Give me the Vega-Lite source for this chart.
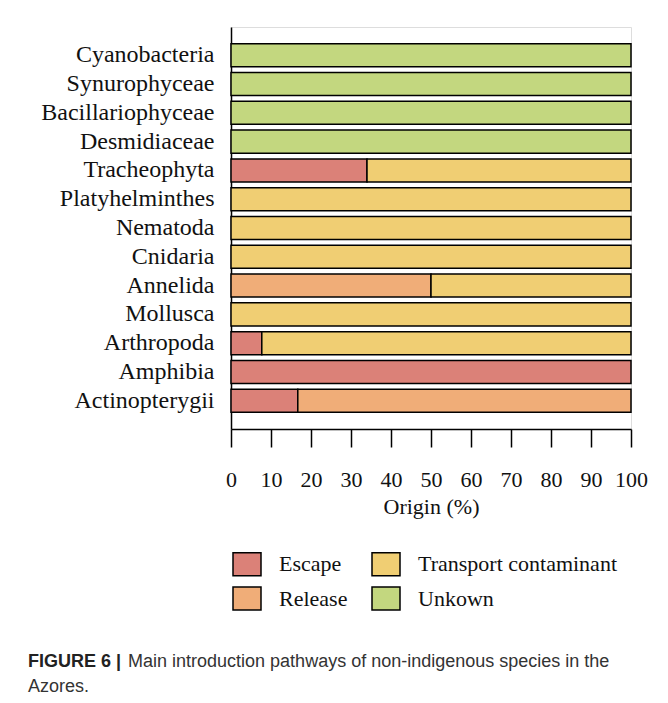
{
  "$schema": "https://vega.github.io/schema/vega-lite/v6.json",
  "autosize": {"type": "none"},
  "width": 400,
  "height": 402,
  "padding": {"left": 231, "top": 27, "right": 37, "bottom": 274},
  "background": "white",
  "title": {
    "text": "FIGURE 6 |",
    "subtitle": ["\u200b\u00a0\u00a0\u00a0\u00a0\u00a0\u00a0\u00a0\u00a0\u00a0\u00a0\u00a0\u00a0\u00a0\u00a0\u00a0\u00a0\u00a0\u00a0\u00a0\u00a0Main introduction pathways of non-indigenous species in the", "Azores."],
    "orient": "bottom",
    "anchor": "start",
    "frame": "group",
    "dx": -203,
    "offset": 40,
    "font": "Liberation Sans",
    "fontSize": 18,
    "fontWeight": "bold",
    "color": "#222222",
    "subtitleFont": "Liberation Sans",
    "subtitleFontSize": 18,
    "subtitleColor": "#333333",
    "subtitlePadding": -18,
    "subtitleLineHeight": 25
  },
  "data": {
    "values": [
      {"taxon": "Cyanobacteria", "pathway": "Unkown", "percent": 100},
      {"taxon": "Synurophyceae", "pathway": "Unkown", "percent": 100},
      {"taxon": "Bacillariophyceae", "pathway": "Unkown", "percent": 100},
      {"taxon": "Desmidiaceae", "pathway": "Unkown", "percent": 100},
      {"taxon": "Tracheophyta", "pathway": "Escape", "percent": 34},
      {"taxon": "Tracheophyta", "pathway": "Transport contaminant", "percent": 66},
      {"taxon": "Platyhelminthes", "pathway": "Transport contaminant", "percent": 100},
      {"taxon": "Nematoda", "pathway": "Transport contaminant", "percent": 100},
      {"taxon": "Cnidaria", "pathway": "Transport contaminant", "percent": 100},
      {"taxon": "Annelida", "pathway": "Release", "percent": 50},
      {"taxon": "Annelida", "pathway": "Transport contaminant", "percent": 50},
      {"taxon": "Mollusca", "pathway": "Transport contaminant", "percent": 100},
      {"taxon": "Arthropoda", "pathway": "Escape", "percent": 7.7},
      {"taxon": "Arthropoda", "pathway": "Transport contaminant", "percent": 92.3},
      {"taxon": "Amphibia", "pathway": "Escape", "percent": 100},
      {"taxon": "Actinopterygii", "pathway": "Escape", "percent": 16.7},
      {"taxon": "Actinopterygii", "pathway": "Release", "percent": 83.3}
    ]
  },
  "mark": {"type": "bar", "stroke": "#000000", "strokeWidth": 1.5, "opacity": 1},
  "encoding": {
    "y": {
      "field": "taxon",
      "type": "nominal",
      "sort": ["Cyanobacteria", "Synurophyceae", "Bacillariophyceae", "Desmidiaceae", "Tracheophyta", "Platyhelminthes", "Nematoda", "Cnidaria", "Annelida", "Mollusca", "Arthropoda", "Amphibia", "Actinopterygii"],
      "scale": {"paddingInner": 0.2, "paddingOuter": 0.58},
      "axis": {
        "title": null,
        "ticks": false,
        "domainColor": "#000000",
        "domainWidth": 1.5,
        "labelFont": "Liberation Serif",
        "labelFontSize": 24,
        "labelColor": "#111111",
        "labelPadding": 17,
        "labelLimit": 300
      }
    },
    "x": {
      "field": "percent",
      "type": "quantitative",
      "stack": "zero",
      "scale": {"domain": [0, 100], "nice": false},
      "axis": {
        "title": "Origin (%)",
        "values": [0, 10, 20, 30, 40, 50, 60, 70, 80, 90, 100],
        "grid": false,
        "domainColor": "#000000",
        "domainWidth": 1.5,
        "tickColor": "#000000",
        "tickWidth": 1.5,
        "tickSize": 18,
        "labelFont": "Liberation Serif",
        "labelFontSize": 22,
        "labelColor": "#111111",
        "labelPadding": 22,
        "labelFlush": false,
        "titleFont": "Liberation Serif",
        "titleFontSize": 22,
        "titleFontWeight": "normal",
        "titleColor": "#111111",
        "titlePadding": 6
      }
    },
    "color": {
      "field": "pathway",
      "type": "nominal",
      "scale": {
        "domain": ["Escape", "Transport contaminant", "Release", "Unkown"],
        "range": ["#DB8178", "#F0CE73", "#F0AD78", "#C3D77F"]
      },
      "legend": {
        "title": null,
        "orient": "none",
        "legendX": 1,
        "legendY": 522,
        "columns": 2,
        "direction": "horizontal",
        "columnPadding": 21,
        "rowPadding": 4.5,
        "symbolType": "M-1,-0.82L1,-0.82L1,0.82L-1,0.82Z",
        "symbolSize": 784,
        "symbolStrokeColor": "#000000",
        "symbolStrokeWidth": 1.5,
        "symbolOpacity": 1,
        "labelFont": "Liberation Serif",
        "labelFontSize": 22,
        "labelColor": "#111111",
        "labelOffset": 17,
        "labelLimit": 400
      }
    }
  }
}
